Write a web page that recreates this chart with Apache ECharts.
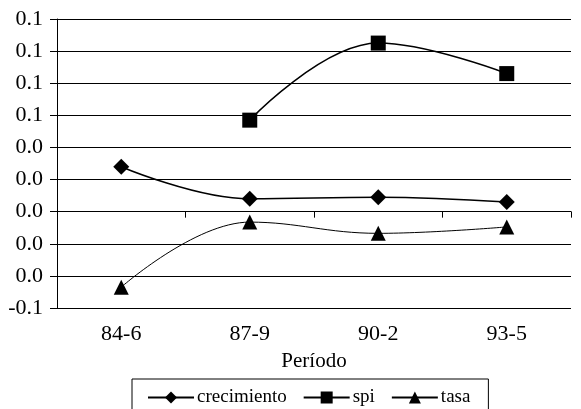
<!DOCTYPE html>
<html>
<head>
<meta charset="utf-8">
<script src="https://cdn.jsdelivr.net/npm/echarts@6/dist/echarts.min.js"></script>
<style>html,body{margin:0;padding:0;background:#fff}#c{width:581px;height:409px}</style>
</head>
<body>
<div id="c"></div>
<script>
var categories = ['84-6', '87-9', '90-2', '93-5'];
var crecimiento = [0.028, 0.008, 0.009, 0.006];
var spi = [null, 0.057, 0.105, 0.086];
var tasa = [-0.047, -0.0065, -0.0135, -0.0095];
var yTickLabels = ['-0.1', '0.0', '0.0', '0.0', '0.0', '0.0', '0.1', '0.1', '0.1', '0.1'];
var yMin = -0.06, yMax = 0.12, yStep = 0.02;

var font = 'Liberation Serif';
var chart = echarts.init(document.getElementById('c'));
chart.setOption({
  animation: false,
  backgroundColor: '#fff',
  textStyle: { fontFamily: font },
  grid: { left: 57, right: 10, top: 19, bottom: 101, containLabel: false },
  legend: {
    top: 379, left: 132,
    padding: [9, 18, 12, 15],
    borderColor: '#000', borderWidth: 1,
    itemWidth: 46, itemHeight: 15, itemGap: 16,
    textStyle: { fontFamily: font, fontSize: 19, color: '#000', padding: [0, 0, 0, -2] },
    data: ['crecimiento', 'spi', 'tasa']
  },
  xAxis: {
    type: 'category',
    data: categories,
    boundaryGap: true,
    name: 'Período',
    nameLocation: 'middle',
    nameGap: 43,
    nameTextStyle: { fontFamily: font, fontSize: 21, color: '#000' },
    axisLine: { lineStyle: { color: '#000', width: 1 } },
    axisTick: { show: true, length: 6, lineStyle: { color: '#000' } },
    axisLabel: { fontFamily: font, fontSize: 22, color: '#000', margin: 15 }
  },
  yAxis: {
    type: 'value',
    min: yMin, max: yMax, interval: yStep,
    axisLine: { show: true, lineStyle: { color: '#000', width: 1 } },
    axisTick: { show: true, length: 7, lineStyle: { color: '#000' } },
    splitLine: { show: true, lineStyle: { color: '#000', width: 1 } },
    axisLabel: {
      fontFamily: font, fontSize: 22, color: '#000', margin: 14,
      formatter: function (v) { return yTickLabels[Math.round((v - yMin) / yStep)]; }
    }
  },
  series: [
    { name: 'crecimiento', type: 'line', data: crecimiento, smooth: 0.4,
      symbol: 'diamond', symbolSize: 16,
      itemStyle: { color: '#000' }, lineStyle: { color: '#000', width: 1.5 } },
    { name: 'spi', type: 'line', data: spi, smooth: 0.4,
      symbol: 'rect', symbolSize: 15,
      itemStyle: { color: '#000' }, lineStyle: { color: '#000', width: 1.5 } },
    { name: 'tasa', type: 'line', data: tasa, smooth: 0.4,
      symbol: 'triangle', symbolSize: 15,
      itemStyle: { color: '#000' }, lineStyle: { color: '#000', width: 1 } }
  ]
});
</script>
</body>
</html>
